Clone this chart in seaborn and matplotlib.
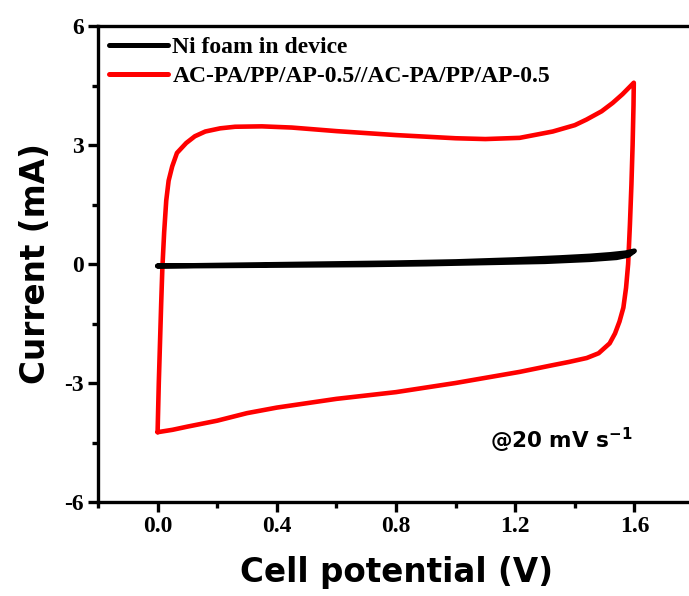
import numpy as np
import pandas as pd
import matplotlib
matplotlib.use("Agg")
import matplotlib.pyplot as plt
import seaborn as sns
from matplotlib.lines import Line2D
from matplotlib.ticker import MultipleLocator

# ---- data ----
series_names = ["Ni foam in device", "AC-PA/PP/AP-0.5//AC-PA/PP/AP-0.5"]
series_colors = ["#000000", "#ff0000"]

red_anodic_v = [0.000, 0.004, 0.008, 0.012, 0.016, 0.022, 0.029, 0.037, 0.049, 0.065,
                0.096, 0.125, 0.160, 0.210, 0.260, 0.350, 0.450, 0.600, 0.800, 1.000,
                1.100, 1.215, 1.326, 1.400, 1.439, 1.490, 1.527, 1.560, 1.598]
red_anodic_i = [-4.24, -3.00, -2.00, -1.00, -0.10, 0.80, 1.60, 2.10, 2.46, 2.80,
                3.05, 3.22, 3.34, 3.42, 3.46, 3.47, 3.44, 3.35, 3.25, 3.17,
                3.15, 3.18, 3.34, 3.50, 3.64, 3.85, 4.06, 4.28, 4.57]
red_cathodic_v = [1.598, 1.597, 1.594, 1.590, 1.585, 1.579, 1.572, 1.563, 1.550, 1.535,
                  1.517, 1.480, 1.440, 1.380, 1.326, 1.215, 1.000, 0.800, 0.600, 0.400,
                  0.300, 0.200, 0.100, 0.050, 0.000]
red_cathodic_i = [4.57, 4.00, 3.00, 2.00, 1.00, 0.00, -0.60, -1.10, -1.45, -1.75,
                  -2.00, -2.25, -2.37, -2.47, -2.55, -2.72, -3.00, -3.23, -3.40, -3.62,
                  -3.76, -3.95, -4.10, -4.18, -4.24]

black_anodic_v = [0.0, 0.2, 0.4, 0.6, 0.8, 1.0, 1.2, 1.35, 1.45, 1.52, 1.57, 1.60]
black_anodic_i = [-0.05, -0.03, -0.01, 0.01, 0.03, 0.06, 0.11, 0.16, 0.20, 0.24, 0.28, 0.33]
black_cathodic_v = [1.60, 1.58, 1.54, 1.45, 1.30, 1.10, 0.90, 0.70, 0.50, 0.30, 0.10, 0.00]
black_cathodic_i = [0.33, 0.22, 0.16, 0.11, 0.06, 0.03, 0.00, -0.02, -0.03, -0.04, -0.05, -0.05]

x_ticks = [0.0, 0.4, 0.8, 1.2, 1.6]
x_tick_labels = ["0.0", "0.4", "0.8", "1.2", "1.6"]
y_ticks = [-6, -3, 0, 3, 6]
y_tick_labels = ["-6", "-3", "0", "3", "6"]

red_df = pd.DataFrame({
    "V": red_anodic_v + red_cathodic_v,
    "I": red_anodic_i + red_cathodic_i,
})
black_df = pd.DataFrame({
    "V": black_anodic_v + black_cathodic_v,
    "I": black_anodic_i + black_cathodic_i,
})

# ---- figure ----
sns.set_theme(style="white")
plt.rcParams["mathtext.default"] = "bf"
plt.rcParams["text.color"] = "black"

fig = plt.figure(figsize=(6.89, 5.96), dpi=100)
ax = fig.add_axes([98 / 689, 1 - 502 / 596, 596 / 689, 476 / 596])

sns.lineplot(data=red_df, x="V", y="I", sort=False, estimator=None,
             color=series_colors[1], linewidth=3.3, ax=ax)
sns.lineplot(data=black_df, x="V", y="I", sort=False, estimator=None,
             color=series_colors[0], linewidth=3.6, ax=ax, solid_capstyle="round")

ax.set_xlim(-0.2, 1.8)
ax.set_ylim(-6, 6)
ax.set_xticks(x_ticks)
ax.set_xticklabels(x_tick_labels)
ax.set_yticks(y_ticks)
ax.set_yticklabels(y_tick_labels)
ax.xaxis.set_minor_locator(MultipleLocator(0.2))
ax.yaxis.set_minor_locator(MultipleLocator(1.5))

for sp in ax.spines.values():
    sp.set_linewidth(2.4)
    sp.set_color("black")

ax.tick_params(axis="both", which="major", direction="out", length=7, width=2.4,
               color="black", pad=3, bottom=True, left=True, top=False, right=False)
ax.tick_params(axis="both", which="minor", direction="out", length=4, width=2.4,
               color="black", bottom=True, left=True, top=False, right=False)
for lab in ax.get_xticklabels() + ax.get_yticklabels():
    lab.set_fontfamily("Liberation Serif")
    lab.set_fontweight("bold")
    lab.set_fontsize(17)
    lab.set_color("black")

ax.set_xlabel("Cell potential (V)", fontfamily="DejaVu Sans", fontweight="bold",
              fontsize=23.5, color="black", labelpad=14)
ax.set_ylabel("Current (mA)", fontfamily="DejaVu Sans", fontweight="bold",
              fontsize=23.5, color="black", labelpad=9)

handles = [Line2D([0], [0], color=c, linewidth=3.6) for c in series_colors]
ax.legend(handles, series_names, loc="upper left", frameon=False,
          prop={"family": "Liberation Serif", "weight": "bold", "size": 17},
          handlelength=2.5, handletextpad=0.2, labelspacing=0.3,
          borderaxespad=0.3, borderpad=0.15, labelcolor="black")

ax.text(1.114, -4.44, r"@20 mV s$^{-1}$", fontfamily="DejaVu Sans",
        fontweight="bold", fontsize=15.5, color="black", ha="left", va="center")

fig.savefig("out.png", dpi=100)
